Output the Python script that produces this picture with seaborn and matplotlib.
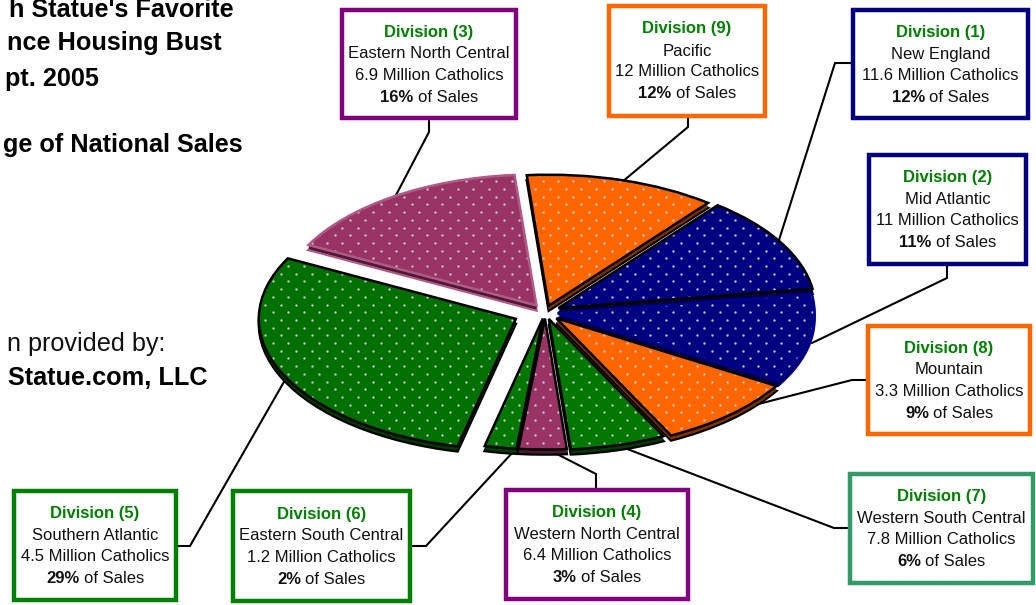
import numpy as np
import matplotlib
matplotlib.use("Agg")
import matplotlib.pyplot as plt
import seaborn as sns

# pie runs counter clockwise from the Division 1 / Division 2 boundary
divisions = [1, 9, 3, 5, 6, 4, 7, 8, 2]
regions = ["New England", "Pacific", "Eastern North Central", "Southern Atlantic", "Eastern South Central",
           "Western North Central", "Western South Central", "Mountain", "Mid Atlantic"]
catholics = ["11.6", "12", "6.9", "4.5", "1.2", "6.4", "7.8", "3.3", "11"]
sales_pct = [12, 12, 16, 29, 2, 3, 6, 9, 11]

# look of the wedges
face_colors = ["#000080", "#FF6600", "#993366", "#007000", "#007800", "#993366", "#007800", "#FF6600", "#000080"]
side_colors = ["#000040", "#803300", "#4d1a33", "#003800", "#003c00", "#4d1a33", "#003c00", "#803300", "#000040"]
edge_colors = ["black", "black", "#b05a85", "black", "black", "black", "black", "black", "#000090"]
explode = [0.06, 0.05, 0.06, 0.125, 0.05, 0.05, 0.055, 0.065, 0.05]
start_angle = 8.5

# callout boxes: left, top, right, bottom in pixels, then the leader line
box_colors = ["#000080", "#FF6600", "#800080", "#008000", "#008000", "#800080", "#339966", "#FF6600", "#000080"]
boxes = [(853, 10, 1028, 118), (609, 6, 765, 116), (342, 10, 516, 118), (14, 491, 176, 600), (233, 491, 410, 601),
         (506, 490, 688, 599), (850, 474, 1033, 583), (868, 326, 1030, 434), (869, 155, 1026, 264)]
leaders = [[(853, 63), (835, 63), (779, 240)], [(688, 116), (688, 127), (622, 182)], [(429, 118), (429, 132), (395, 197)],
           [(176, 546), (190, 546), (285, 380)], [(410, 546), (426, 546), (513, 452)], [(596, 490), (596, 474), (553, 452)],
           [(850, 528), (834, 528), (622, 447)], [(868, 380), (852, 380), (735, 410)], [(947, 264), (947, 278), (812, 343)]]

title_lines = ["h Statue's Favorite", "nce Housing Bust", "pt. 2005", "ge of National Sales"]
title_right = [234, 222, 99, 243]
title_y = [10, 43, 79, 145]

W, H = 1036, 605
cx, cy, rx, ry = 545, 312, 257, 131
depth = 5

sns.set_theme(style="white")
plt.rcParams["font.family"] = ["Liberation Sans", "DejaVu Sans"]

fig = plt.figure(figsize=(W / 100, H / 100), dpi=100)
fig.patch.set_facecolor("white")
ax = fig.add_axes([0, 0, 1, 1])
ax.set_xlim(0, W)
ax.set_ylim(H, 0)
ax.axis("off")

# second axes just for the pie, squashed so the circle turns into an ellipse
ax_pie = fig.add_axes([(cx - 1.25 * rx) / W, 1 - (cy + 1.25 * ry) / H, 2.5 * rx / W, 2.5 * ry / H])

# side of the slices, stacked downwards
for d in np.arange(depth, 0, -1):
    side, _ = ax_pie.pie(sales_pct, explode=explode, colors=side_colors, startangle=start_angle,
                         center=(0, -d / ry), radius=1, wedgeprops={"linewidth": 0})
    for w, ec in zip(side, edge_colors):
        w.set_zorder(1)
        if d == depth:
            w.set_edgecolor(ec)
            w.set_linewidth(1.8)

top, _ = ax_pie.pie(sales_pct, explode=explode, colors=face_colors, startangle=start_angle,
                    radius=1, wedgeprops={"linewidth": 0})
lines, _ = ax_pie.pie(sales_pct, explode=explode, colors=face_colors, startangle=start_angle,
                      radius=1, wedgeprops={"fill": False, "linewidth": 1.8})
for w in top:
    w.set_zorder(2)
for w, ec in zip(lines, edge_colors):
    w.set_zorder(4)
    w.set_edgecolor(ec)
    w.set_joinstyle("miter")

ax_pie.set_aspect("auto")

# dotted fill, one scatter per wedge so it can be clipped to it
xs, ys = [], []
for i, y in enumerate(np.arange(166, 470, 7.7)):
    row = np.arange(250 + (i % 2) * 7.7, 830, 15.4)
    xs.extend(row)
    ys.extend([y] * len(row))
for w in top:
    dots = ax_pie.scatter(xs, ys, s=3, color="#c4c4c4", linewidths=0, transform=ax.transData, zorder=3)
    dots.set_clip_path(w)
ax_pie.set_xlim(-1.25, 1.25)
ax_pie.set_ylim(-1.25, 1.25)

renderer = fig.canvas.get_renderer()
font_size = 12


def sales_line(x, y, pct):
    # bold number followed by regular text, centred together
    a = ax.text(x, y, f"{pct}%", fontsize=font_size, fontweight="bold", color="#111111", va="center", ha="left")
    b = ax.text(x, y, "of Sales", fontsize=font_size, color="#111111", va="center", ha="left")
    wa = a.get_window_extent(renderer).width
    wb = b.get_window_extent(renderer).width
    gap = 4
    a.set_x(x - (wa + gap + wb) / 2)
    b.set_x(x - (wa + gap + wb) / 2 + wa + gap)


for i, div in enumerate(divisions):
    x0, y0, x1, y1 = boxes[i]
    ax.plot([p[0] for p in leaders[i]], [p[1] for p in leaders[i]], color="black", lw=1.5, zorder=1,
            solid_joinstyle="miter")
    ax.add_patch(plt.Rectangle((x0, y0), x1 - x0, y1 - y0, facecolor="white", edgecolor=box_colors[i], lw=3.2,
                               joinstyle="miter", zorder=2))
    xm = (x0 + x1) / 2
    ym = (y0 + y1) / 2
    ax.text(xm, ym - 32, f"Division ({div})", fontsize=font_size, fontweight="bold", color="#008000",
            ha="center", va="center", zorder=3)
    ax.text(xm, ym - 10, regions[i], fontsize=font_size, color="#111111", ha="center", va="center", zorder=3)
    ax.text(xm, ym + 11, f"{catholics[i]} Million Catholics", fontsize=font_size, color="#111111",
            ha="center", va="center", zorder=3)
    sales_line(xm, ym + 33, sales_pct[i])

for text, xr, y in zip(title_lines, title_right, title_y):
    ax.text(xr, y, text, fontsize=18.2, fontweight="bold", color="black", ha="right", va="center")
ax.text(165, 344, "n provided by:", fontsize=18.2, color="#111111", ha="right", va="center")
ax.text(208, 378, "Statue.com, LLC", fontsize=18.2, fontweight="bold", color="black", ha="right", va="center")

fig.savefig("out.png", dpi=100)
